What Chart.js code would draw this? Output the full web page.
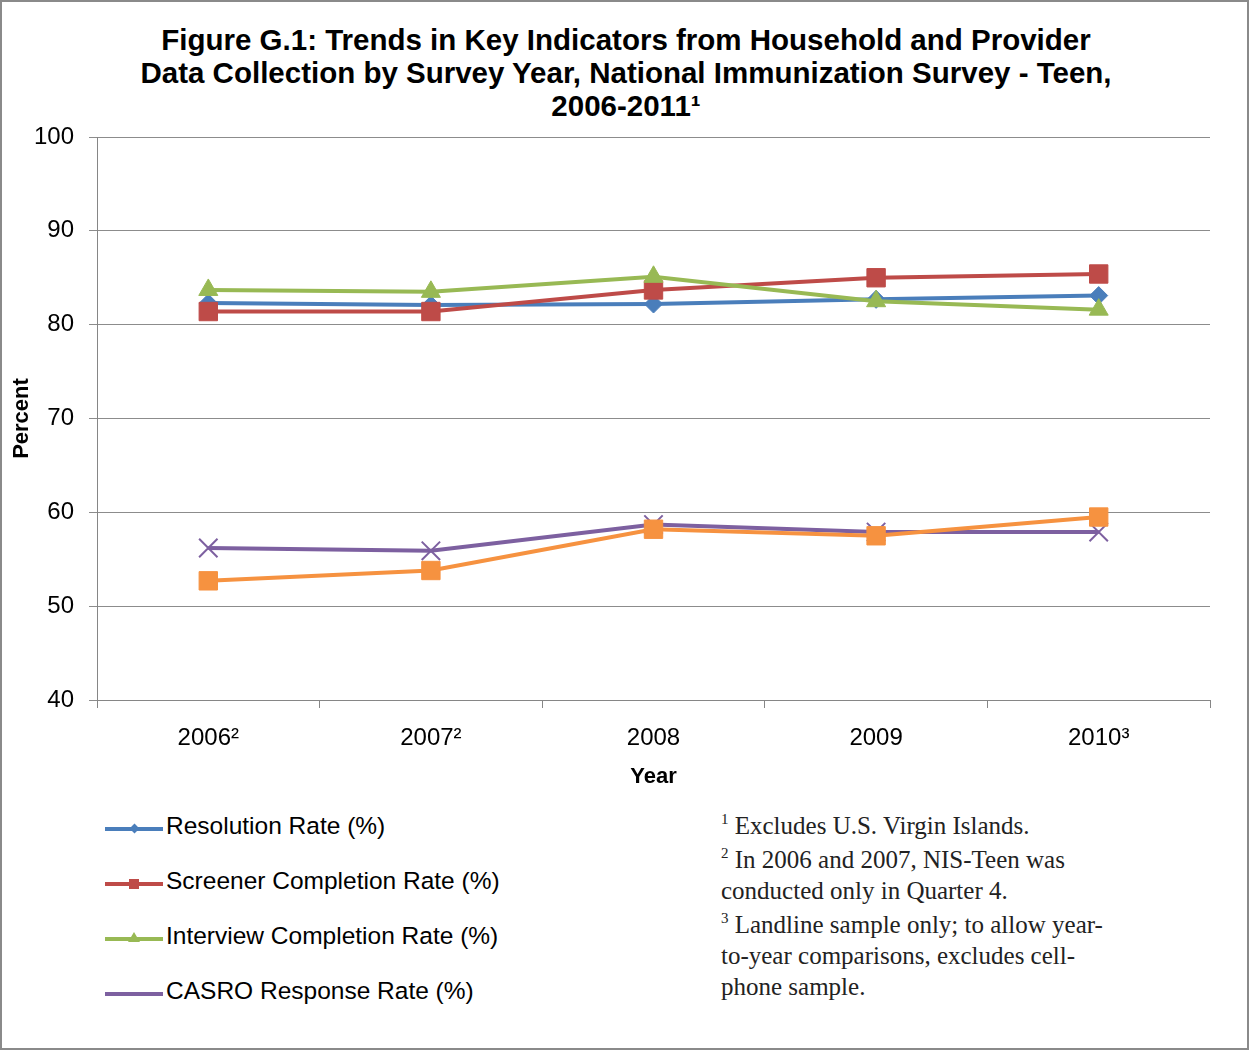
<!DOCTYPE html>
<html>
<head>
<meta charset="utf-8">
<script src="https://cdn.jsdelivr.net/npm/chart.js@4.4.1/dist/chart.umd.min.js"></script>
<style>
  body { margin: 0; background: #fff; }
  #page { position: relative; width: 1249px; height: 1050px; overflow: hidden; background: #fff; }
  #frame { position: absolute; left: 0; top: 0; width: 1249px; height: 1050px; box-sizing: border-box; border: 2px solid #8a8a8a; pointer-events: none; }
  #title { position: absolute; left: 0; top: 23px; width: 1252px; text-align: center; font-family: "Liberation Sans", Arial, sans-serif; font-weight: bold; font-size: 29.5px; line-height: 33px; color: #000; white-space: nowrap; }
  #chart-box { position: absolute; left: 0; top: 0; width: 1249px; height: 800px; }
  #legend { position: absolute; left: 105px; top: 812px; font-family: "Liberation Sans", Arial, sans-serif; font-size: 24.5px; color: #000; }
  .legend-item { position: relative; height: 55px; display: flex; align-items: flex-start; }
  .legend-line { position: relative; width: 58px; height: 4px; margin-top: 15px; margin-right: 3px; }
  .legend-marker { position: absolute; left: 25px; top: -3px; width: 9px; height: 9px; }
  #notes { position: absolute; left: 721px; top: 810px; font-family: "Liberation Serif", "DejaVu Serif", serif; font-size: 25px; color: #222; line-height: 31px; white-space: nowrap; }
  #notes p { margin: 0 0 3px 0; }
  #notes sup { font-size: 15px; vertical-align: 10px; line-height: 0; }
</style>
</head>
<body>
<div id="page">
  <div id="title">Figure G.1: Trends in Key Indicators from Household and Provider<br>Data Collection by Survey Year, National Immunization Survey - Teen,<br>2006-2011&sup1;</div>
  <div id="chart-box"><canvas id="trend-chart"></canvas></div>
  <div id="legend"></div>
  <div id="notes">
    <p><sup>1</sup> Excludes U.S. Virgin Islands.</p>
    <p><sup>2</sup> In 2006 and 2007, NIS-Teen was<br>conducted only in Quarter 4.</p>
    <p><sup>3</sup> Landline sample only; to allow year-<br>to-year comparisons, excludes cell-<br>phone sample.</p>
  </div>
  <div id="frame"></div>
</div>
<script>
// Survey years (superscripts refer to footnotes)
const years = ['2006\u00B2', '2007\u00B2', '2008', '2009', '2010\u00B3'];

// Rates in percent
const resolutionRate = [82.3, 82.1, 82.2, 82.7, 83.1];
const screenerRate = [81.4, 81.4, 83.7, 85.0, 85.4];
const interviewRate = [83.7, 83.5, 85.1, 82.5, 81.6];
const casroRate = [56.2, 55.9, 58.7, 57.9, 57.9];
const fifthRate = [52.7, 53.8, 58.2, 57.5, 59.5];

const yTicks = [40, 50, 60, 70, 80, 90, 100];

const seriesInfo = [
  { label: 'Resolution Rate (%)', data: resolutionRate, color: '#4a7ebb', style: 'rectRot', radius: 9, order: 5, legend: true },
  { label: 'Screener Completion Rate (%)', data: screenerRate, color: '#be4b48', style: 'rect', radius: 13, order: 4, legend: true },
  { label: 'Interview Completion Rate (%)', data: interviewRate, color: '#98b954', style: 'triangle', radius: 11, order: 3, legend: true },
  { label: 'CASRO Response Rate (%)', data: casroRate, color: '#7d60a0', style: 'crossRot', radius: 13, order: 2, legend: true },
  { label: 'Rate (%)', data: fifthRate, color: '#f69240', style: 'rect', radius: 13, order: 1, legend: false }
];

const axisFont = { family: '"Liberation Sans", Arial, sans-serif', size: 24 };

new Chart(document.getElementById('trend-chart'), {
  type: 'line',
  data: {
    labels: years,
    datasets: seriesInfo.map(s => ({
      label: s.label,
      data: s.data,
      borderColor: s.color,
      backgroundColor: s.color,
      borderWidth: 4,
      pointStyle: s.style,
      pointRadius: s.radius,
      pointBorderWidth: s.style === 'crossRot' ? 2 : 1,
      pointBackgroundColor: s.color,
      pointBorderColor: s.color,
      tension: 0,
      fill: false,
      order: s.order
    }))
  },
  options: {
    responsive: true,
    maintainAspectRatio: false,
    animation: false,
    layout: { padding: { left: 8, right: 39, top: 137, bottom: 0 } },
    plugins: {
      legend: { display: false },
      tooltip: { enabled: false },
      title: { display: false }
    },
    scales: {
      x: {
        offset: true,
        grid: { display: true, drawOnChartArea: false, tickLength: 8, color: '#868686', offset: true },
        border: { display: true, color: '#868686', width: 1 },
        ticks: { color: '#000', font: axisFont, padding: 16, maxRotation: 0 },
        title: {
          display: true,
          text: 'Year',
          color: '#000',
          font: { family: '"Liberation Sans", Arial, sans-serif', size: 22, weight: 'bold' },
          padding: { top: 0, bottom: 10 }
        },
        afterFit: function(scale) { scale.height = 100; }
      },
      y: {
        min: 40,
        max: 100,
        afterBuildTicks: function(scale) { scale.ticks = yTicks.map(v => ({ value: v })); },
        grid: { color: '#8c8c8c', tickLength: 8, lineWidth: 1 },
        border: { display: true, color: '#868686', width: 1 },
        ticks: { color: '#000', font: axisFont, padding: 15 },
        title: {
          display: true,
          text: 'Percent',
          color: '#000',
          font: { family: '"Liberation Sans", Arial, sans-serif', size: 22, weight: 'bold' },
          padding: { top: 1, bottom: 0 }
        },
        afterFit: function(scale) { scale.width = 89; }
      }
    }
  }
});

// Build the legend (only the four named series appear in it)
const legendContainer = document.getElementById('legend');
seriesInfo.filter(s => s.legend).forEach(s => {
  const item = document.createElement('div');
  item.className = 'legend-item';
  let marker = '';
  if (s.style === 'rectRot') {
    marker = `<div class="legend-marker" style="background:${s.color};transform:rotate(45deg);width:7px;height:7px;top:-2px;left:26px"></div>`;
  } else if (s.style === 'rect') {
    marker = `<div class="legend-marker" style="background:${s.color};width:10px;height:10px;top:-3px;left:24px"></div>`;
  } else if (s.style === 'triangle') {
    marker = `<div class="legend-marker" style="width:0;height:0;border-left:6px solid transparent;border-right:6px solid transparent;border-bottom:10px solid ${s.color};top:-5px;left:23px"></div>`;
  }
  item.innerHTML = `
    <div class="legend-line" style="background:${s.color}">${marker}</div>
    <span>${s.label}</span>
  `;
  legendContainer.appendChild(item);
});
</script>
</body>
</html>
